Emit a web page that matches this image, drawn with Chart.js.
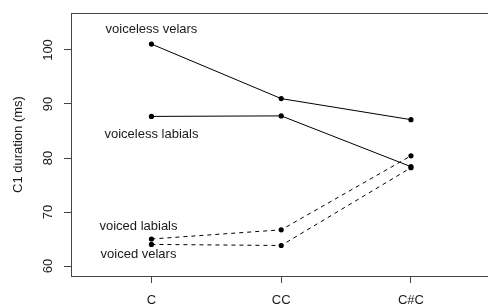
<!DOCTYPE html>
<html><head><meta charset="utf-8">
<script src="https://cdn.jsdelivr.net/npm/chart.js@4/dist/chart.umd.min.js"></script>
<style>html,body{margin:0;padding:0;overflow:hidden;background:#fff;width:488px;height:305px}#wrap{width:494px;height:305px}</style>
</head><body><div id="wrap"><canvas id="c" width="494" height="305"></canvas></div>
<script>
const categories = ["C", "CC", "C#C"];
const voicelessVelars = [101.1, 91.0, 87.1];
const voicelessLabials = [87.7, 87.8, 78.4];
const voicedLabials = [65.0, 66.7, 80.4];
const voicedVelars = [64.0, 63.8, 78.2];
const yTicks = [60, 70, 80, 90, 100];
const seriesLabels = ["voiceless velars", "voiceless labials", "voiced labials", "voiced velars"];
// label anchor positions in data units [x, y]
const labelPos = [[1, 103.8], [1, 84.4], [0.9, 67.3], [0.9, 62.2]];

const FONT = '13px "Liberation Sans", Arial, sans-serif';
function mk(label, vals, dashed) {
  return {
    label, data: vals.map((v, i) => ({x: i + 1, y: v})),
    showLine: true, borderColor: '#000', backgroundColor: '#000', borderWidth: 1,
    borderDash: dashed ? [4, 4] : [], pointRadius: 2.6, pointHoverRadius: 2.6,
    pointBackgroundColor: '#000', pointBorderWidth: 0, tension: 0
  };
}
const textPlugin = {
  id: 'txt',
  afterDraw(chart) {
    const {ctx, chartArea: a, scales: {x, y}} = chart;
    ctx.save();
    ctx.strokeStyle = '#444'; ctx.lineWidth = 1;
    ctx.strokeRect(Math.round(a.left) + 0.5, Math.round(a.top) + 0.5, Math.round(a.right - a.left), Math.round(a.bottom - a.top));
    ctx.fillStyle = '#1a1a1a'; ctx.font = FONT;
    ctx.textAlign = 'center'; ctx.textBaseline = 'middle';
    seriesLabels.forEach((s, i) => {
      ctx.fillText(s, x.getPixelForValue(labelPos[i][0]), y.getPixelForValue(labelPos[i][1]));
    });
    categories.forEach((c, i) => ctx.fillText(c, x.getPixelForValue(i + 1), 300));
    yTicks.forEach(v => {
      ctx.save(); ctx.translate(48, y.getPixelForValue(v)); ctx.rotate(-Math.PI / 2);
      ctx.fillText(String(v), 0, 0); ctx.restore();
    });
    ctx.save(); ctx.translate(18, (a.top + a.bottom) / 2); ctx.rotate(-Math.PI / 2);
    ctx.fillText('C1 duration (ms)', 0, 0); ctx.restore();
    ctx.restore();
  }
};
new Chart(document.getElementById('c'), {
  type: 'scatter',
  data: {datasets: [
    mk(seriesLabels[0], voicelessVelars, false),
    mk(seriesLabels[1], voicelessLabials, false),
    mk(seriesLabels[2], voicedLabials, true),
    mk(seriesLabels[3], voicedVelars, true)
  ]},
  options: {
    responsive: false, animation: false, devicePixelRatio: 1,
    layout: {padding: {top: 13, right: 1, left: 0, bottom: 0}},
    plugins: {legend: {display: false}, tooltip: {enabled: false}},
    scales: {
      x: {type: 'linear', min: 0.38, max: 3.62,
        afterFit: s => { s.height = 29; },
        afterBuildTicks: s => { s.ticks = categories.map((c, i) => ({value: i + 1})); },
        ticks: {display: false},
        border: {display: false},
        grid: {drawOnChartArea: false, drawTicks: true, tickLength: 7, color: '#444', tickColor: '#444'}},
      y: {type: 'linear', min: 58.15, max: 106.85,
        afterFit: s => { s.width = 71; },
        afterBuildTicks: s => { s.ticks = yTicks.map(v => ({value: v})); },
        ticks: {display: false},
        border: {display: false},
        grid: {drawOnChartArea: false, drawTicks: true, tickLength: 7, color: '#444', tickColor: '#444'}}
    }
  },
  plugins: [textPlugin]
});
</script></body></html>
